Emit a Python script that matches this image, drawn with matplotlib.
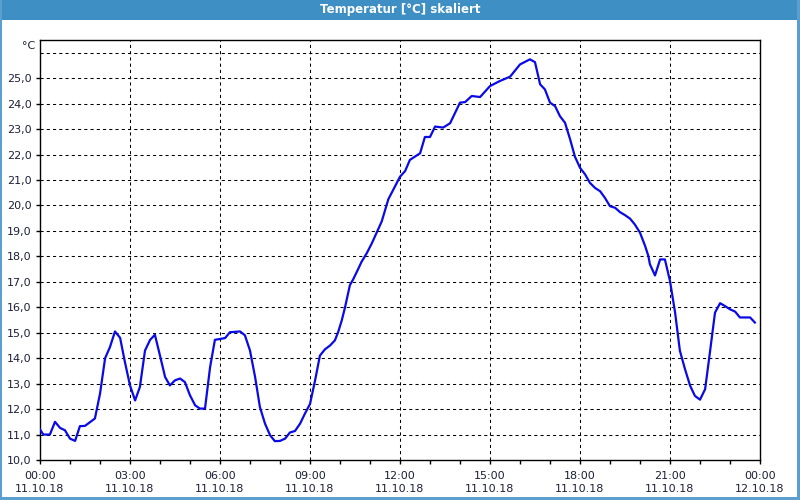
import matplotlib
matplotlib.use("Agg")
import matplotlib.pyplot as plt
from matplotlib.patches import Rectangle

# ---- data (hours since 11.10.18 00:00, temperature in °C) ----
hours = [0.0, 0.11, 0.33, 0.5, 0.67, 0.83, 1.0, 1.17, 1.33, 1.5, 1.83, 2.0, 2.17, 2.33,
         2.5, 2.67, 2.83, 3.0, 3.17, 3.33, 3.5, 3.67, 3.83, 4.0, 4.17, 4.33, 4.5, 4.67,
         4.83, 5.0, 5.17, 5.33, 5.5, 5.67, 5.83, 6.17, 6.33, 6.67, 6.83, 7.0, 7.17, 7.33,
         7.5, 7.67, 7.83, 8.0, 8.17, 8.33, 8.5, 8.67, 8.83, 9.0, 9.17, 9.33, 9.5, 9.67,
         9.83, 9.94, 10.06, 10.17, 10.33, 10.44, 10.56, 10.72, 10.89, 11.06, 11.22, 11.39,
         11.61, 12.0, 12.17, 12.33, 12.67, 12.83, 13.0, 13.17, 13.44, 13.67, 14.0, 14.17,
         14.39, 14.67, 15.0, 15.33, 15.67, 16.0, 16.33, 16.5, 16.67, 16.83, 17.0, 17.17,
         17.33, 17.5, 17.67, 17.83, 18.0, 18.17, 18.33, 18.5, 18.67, 18.83, 19.0, 19.17,
         19.33, 19.5, 19.67, 19.83, 20.0, 20.17, 20.28, 20.33, 20.5, 20.67, 20.83, 21.0,
         21.17, 21.33, 21.5, 21.67, 21.83, 22.0, 22.17, 22.33, 22.5, 22.67, 22.83, 23.0,
         23.17, 23.33, 23.67, 23.83]
temps = [11.2, 11.0, 11.0, 11.5, 11.26, 11.17, 10.84, 10.75, 11.33, 11.34, 11.63, 12.6, 14.0, 14.43,
         15.05, 14.8, 13.85, 12.93, 12.34, 12.87, 14.3, 14.72, 14.92, 14.1, 13.26, 12.93, 13.13, 13.2,
         13.06, 12.54, 12.15, 12.02, 12.02, 13.65, 14.72, 14.79, 15.02, 15.05, 14.9, 14.3, 13.26, 12.08,
         11.43, 10.97, 10.74, 10.75, 10.84, 11.08, 11.14, 11.43, 11.82, 12.2, 13.13, 14.1, 14.35, 14.5,
         14.7, 15.03, 15.49, 16.01, 16.87, 17.1, 17.39, 17.79, 18.12, 18.51, 18.93, 19.37,
         20.24, 21.13, 21.35, 21.79, 22.05, 22.69, 22.69, 23.1, 23.06, 23.23, 24.04, 24.06,
         24.3, 24.26, 24.69, 24.89, 25.06, 25.54, 25.74, 25.63, 24.76, 24.56, 24.04, 23.9,
         23.51, 23.25, 22.6, 21.92, 21.48, 21.22, 20.89, 20.69, 20.56, 20.3, 19.97, 19.91,
         19.74, 19.62, 19.48, 19.25, 18.93, 18.41, 18.01, 17.69, 17.25, 17.88, 17.88, 17.03,
         15.79, 14.29, 13.57, 12.92, 12.52, 12.37, 12.78, 14.22, 15.79, 16.16, 16.05, 15.92,
         15.83, 15.6, 15.6, 15.4]

xtick_pos = [0, 3, 6, 9, 12, 15, 18, 21, 24]
xtick_labels = ["00:00\n11.10.18", "03:00\n11.10.18", "06:00\n11.10.18", "09:00\n11.10.18",
                "12:00\n11.10.18", "15:00\n11.10.18", "18:00\n11.10.18", "21:00\n11.10.18",
                "00:00\n12.10.18"]
ytick_pos = list(range(10, 26))
ytick_labels = [f"{v},0" for v in ytick_pos]
title = "Temperatur [°C] skaliert"
unit = "°C"

W, H = 800, 500
fig = plt.figure(figsize=(8, 5), dpi=100)
fig.patch.set_facecolor("white")

# window chrome
title_col = "#3d8fc4"
border_col = "#5a9fd0"
fig.patches.append(Rectangle((0, 1 - 20 / H), 1, 20 / H, transform=fig.transFigure,
                             facecolor=title_col, edgecolor="none", zorder=0))
fig.patches.append(Rectangle((0, 0), 2 / W, 1, transform=fig.transFigure,
                             facecolor=border_col, edgecolor="none", zorder=0))
fig.patches.append(Rectangle((1 - 3 / W, 0), 3 / W, 1, transform=fig.transFigure,
                             facecolor=border_col, edgecolor="none", zorder=0))
fig.patches.append(Rectangle((0, 0), 1, 3 / H, transform=fig.transFigure,
                             facecolor=border_col, edgecolor="none", zorder=0))
fig.text(0.5, 1 - 10 / H, title, ha="center", va="center", color="white",
         fontsize=8.5, fontweight="bold")

ax = fig.add_axes([40 / W, 1 - 460 / H, 720 / W, 420 / H])
ax.set_facecolor("white")
ax.plot(hours, temps, color="#0a0ae6", lw=1.6, zorder=3, solid_joinstyle="round")

ax.set_xlim(0, 24)
ax.set_ylim(10, 26.5)

ax.set_xticks(xtick_pos)
ax.set_xticklabels(xtick_labels, fontsize=8, color="#1c2038", linespacing=1.35)
ax.set_xticks(range(0, 25), minor=True)
ax.set_yticks(ytick_pos)
ax.set_yticklabels(ytick_labels, fontsize=8, color="#1c2038")
ax.tick_params(axis="both", which="both", direction="out", length=3, width=1, color="black", pad=3)
ax.tick_params(axis="x", which="major", pad=5)

# grid
for y in range(11, 27):
    ax.axhline(y, color="black", lw=0.75, dashes=(3, 3), zorder=1)
for x in xtick_pos[1:-1]:
    ax.axvline(x, color="black", lw=0.75, dashes=(3, 3), zorder=1)

for s in ax.spines.values():
    s.set_color("black")
    s.set_linewidth(1)

fig.text(35 / W, 1 - 46 / H, unit, ha="right", va="center", fontsize=8, color="#1c2038")

fig.savefig("out.png", dpi=100, facecolor=fig.get_facecolor())
